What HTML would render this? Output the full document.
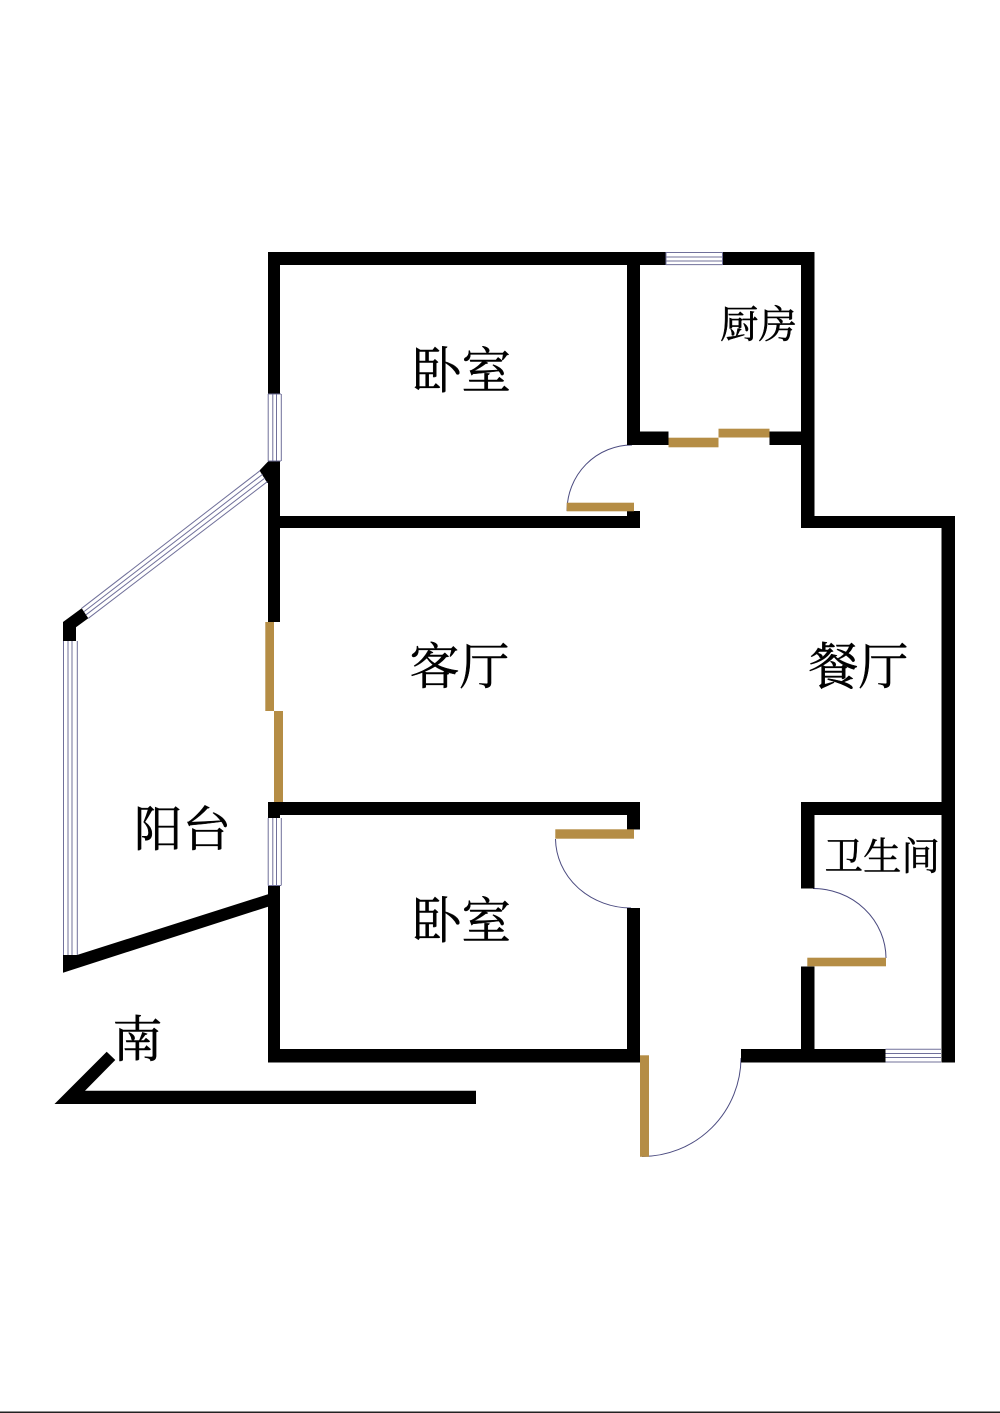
<!DOCTYPE html>
<html>
<head>
<meta charset="utf-8">
<style>
html,body{margin:0;padding:0;background:#fff;width:1000px;height:1413px;overflow:hidden}
svg{display:block}
text{font-family:"Liberation Serif","Noto Serif CJK SC",serif;fill:#000;stroke:#000;stroke-width:.45px}
</style>
</head>
<body>
<svg width="1000" height="1413" viewBox="0 0 1000 1413" xmlns="http://www.w3.org/2000/svg">
<rect width="1000" height="1413" fill="#fff"/>
<!-- door arcs -->
<g fill="none" stroke="#4b4b80" stroke-width="1">
<path d="M567 511 A65 66 0 0 1 632 445"/>
<path d="M555.5 839 A76 70 0 0 0 631 908"/>
<path d="M813 888.5 A73 70 0 0 1 886 958"/>
<path d="M741 1058 A99 99 0 0 1 642 1156.5"/>
</g>
<!-- walls -->
<g fill="#000">
<rect x="268" y="252" width="398" height="13"/>
<rect x="722.5" y="252" width="92" height="13"/>
<rect x="268" y="252" width="12" height="142"/>
<rect x="268" y="461" width="12" height="161"/>
<rect x="268" y="516" width="372" height="12"/>
<rect x="627" y="252" width="13" height="193"/>
<rect x="627" y="431.5" width="41.5" height="13.5"/>
<rect x="769.5" y="431.5" width="32" height="13.5"/>
<rect x="801" y="252" width="13.5" height="276"/>
<rect x="801" y="516" width="154" height="12"/>
<rect x="627" y="511" width="13" height="17"/>
<rect x="941.5" y="516" width="13.5" height="546.5"/>
<rect x="801" y="802" width="141" height="13"/>
<rect x="801" y="802" width="13.5" height="86.5"/>
<rect x="801" y="966.5" width="13.5" height="96"/>
<rect x="741" y="1049" width="144.5" height="13.5"/>
<rect x="941.5" y="1049" width="13.5" height="13.5"/>
<rect x="268" y="802" width="372" height="13"/>
<rect x="268" y="802" width="12" height="16"/>
<rect x="627" y="802" width="13" height="27.5"/>
<rect x="627" y="908" width="13" height="154.5"/>
<rect x="268" y="1049" width="372" height="13.5"/>
<rect x="268" y="886" width="12" height="176"/>
<polygon points="268,894.3 268,906.7 63,972.7 63,955 77,955"/>
<polygon points="63,641 63,622 81.7,608.3 88.3,618.3 76,627.3 76,641"/>
<polygon points="268,461.5 259.5,470.5 267.3,483 280,483 280,461.5"/>
<polygon points="54.5,1104 106.7,1051.7 115.3,1060 85,1090.7 476,1090.7 476,1104"/>
</g>
<!-- doors -->
<g fill="#b58d45">
<rect x="668.5" y="437.7" width="50" height="9.6"/>
<rect x="718.5" y="428.7" width="51" height="8.8"/>
<rect x="566.7" y="502.7" width="67.3" height="8.6"/>
<rect x="265.3" y="622" width="8.7" height="89"/>
<rect x="274" y="711" width="9" height="91"/>
<rect x="555.3" y="829.3" width="78.7" height="9.4"/>
<rect x="807.3" y="957.7" width="78.7" height="8.6"/>
<rect x="640" y="1055.3" width="9" height="101.5"/>
</g>
<!-- windows -->
<g stroke="#70709a" stroke-width="1" fill="none">
<path d="M268.2 394V461M272.8 394V461M276.5 394V461M281.3 394V461M268 394H281 M268 461H281"/>
<path d="M268.2 818V885.5M272.8 818V885.5M276.5 818V885.5M281.3 818V885.5M268 885.5H281"/>
<path d="M63.5 641V955M68 641V955M72 641V955M77.3 641V955"/>
<path d="M666 252.5H722.5M666 257H722.5M666 261H722.5M666 264.6H722.5M666 252V265M722.5 252V265"/>
<path d="M885.5 1049.3H941M885.5 1053.5H941M885.5 1057.5H941M885.5 1062H941"/>
<path d="M81.7 608.3L260 470.7M84 611.6L262.5 474.4M86 614.8L265 478M88.3 618.3L267.3 481.7"/>
</g>
<!-- labels -->
<text x="412" y="388" font-size="49.5">卧室</text>
<text x="720" y="338" font-size="38.5">厨房</text>
<text x="409.5" y="684" font-size="50">客厅</text>
<text x="808.5" y="684" font-size="50">餐厅</text>
<text x="134" y="846" font-size="48.5">阳台</text>
<text x="412" y="938" font-size="49.5">卧室</text>
<text x="824.5" y="870" font-size="38.5">卫生间</text>
<text x="112.5" y="1057" font-size="50">南</text>
<rect x="0" y="1411.5" width="1000" height="1.5" fill="#222"/>
</svg>
</body>
</html>
